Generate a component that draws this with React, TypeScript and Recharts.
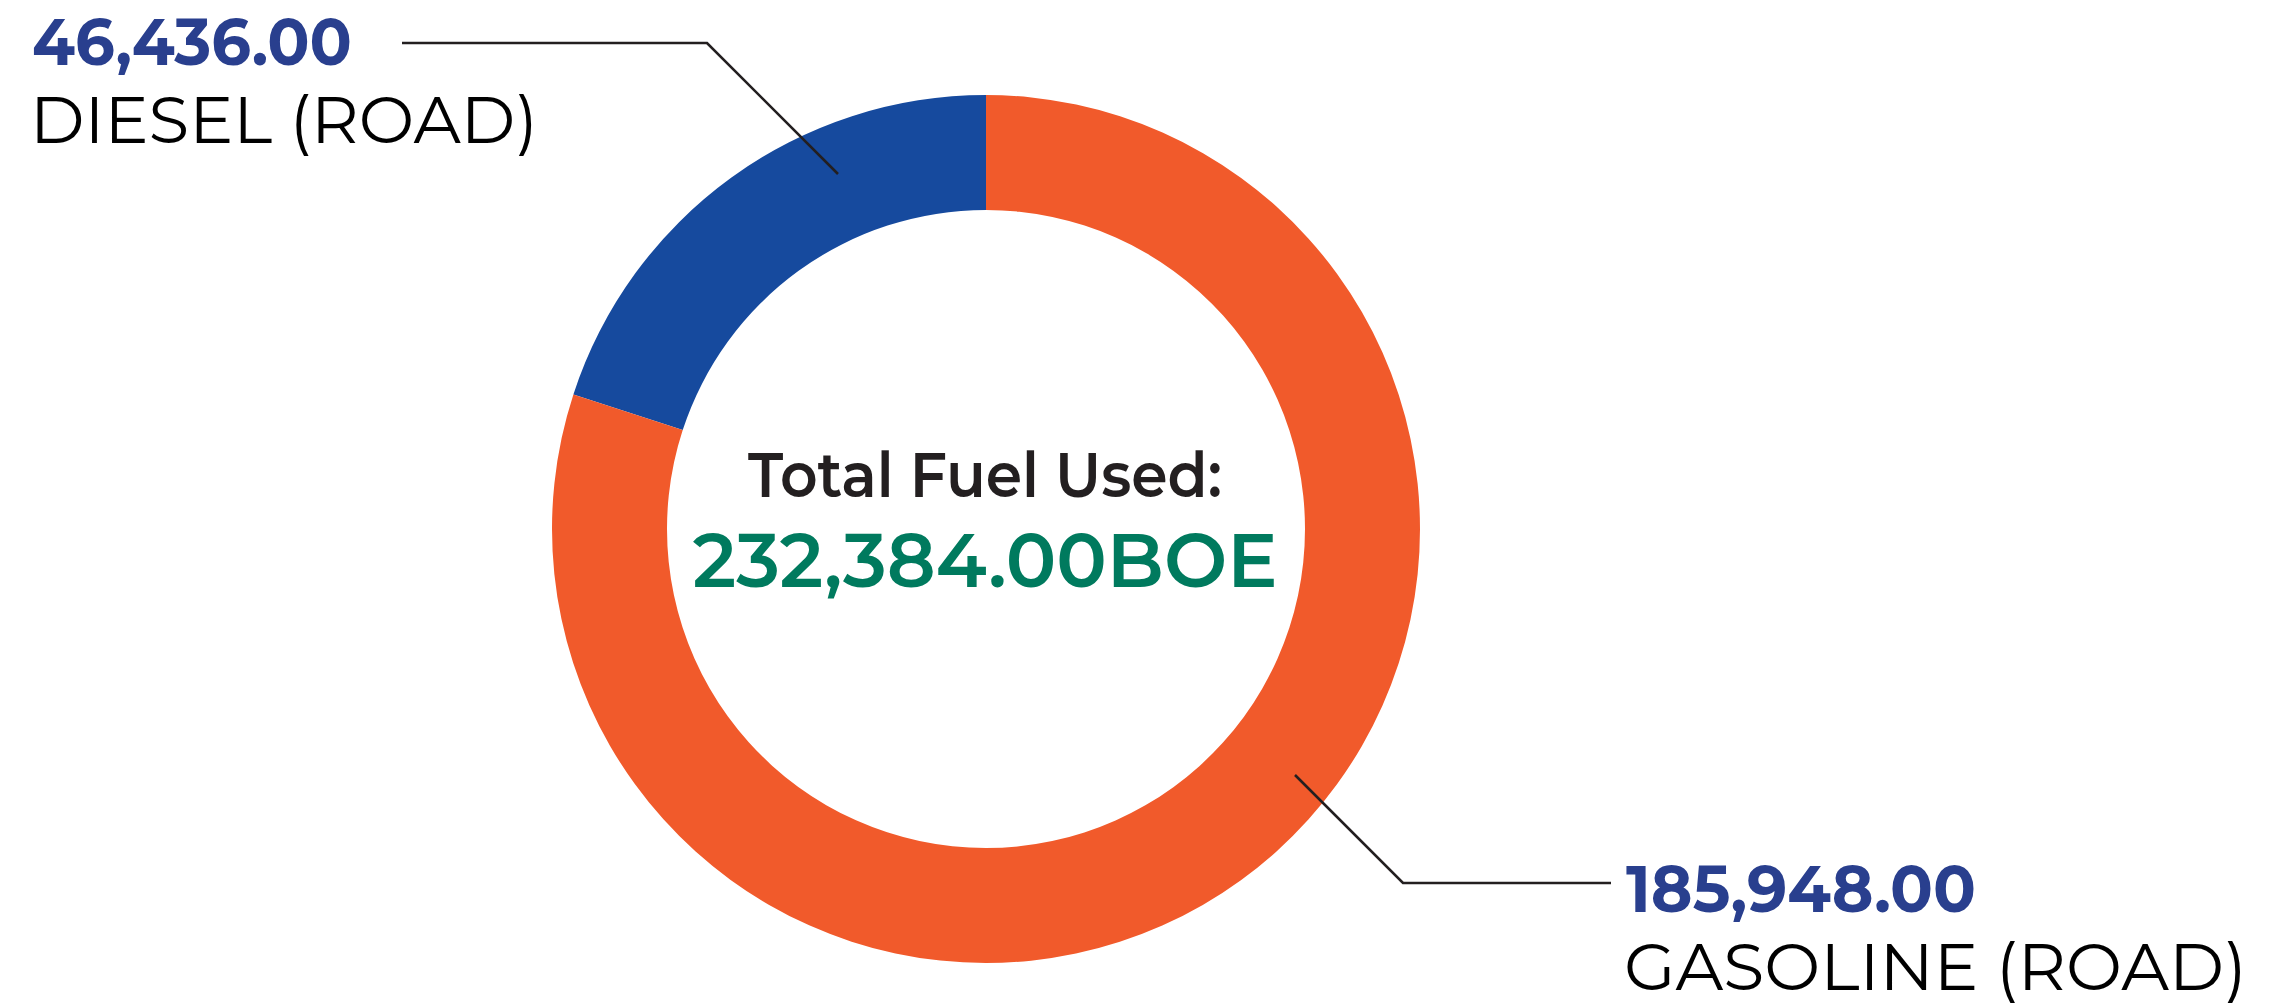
import { FC } from 'react'
import { Cell, Pie, PieChart } from 'recharts'

const FUELS = ['DIESEL (ROAD)', 'GASOLINE (ROAD)']
const VOLUMES = [46436, 185948]
const COLORS = ['#164A9E', '#F15A2B']
const UNIT = 'BOE'

const TEXT_BLUE = '#293F8E'
const TEXT_GREEN = '#007A5E'
const INK = '#231F20'
const FONT = 'Montserrat, Inter, "Open Sans", sans-serif'

const CX = 986
const CY = 529

// leader line layout, relative to the pie centre
const LAYOUT = [
  { tip: [-148, -355], elbow: [-279, -486], end: -584, textX: -954, numW: 320, nameW: 508, side: 'left' },
  { tip: [309, 246], elbow: [417, 354], end: 625, textX: 640, numW: 350, nameW: 623, side: 'right' },
]

const data = FUELS.map((name, i) => ({ name, value: VOLUMES[i] }))
const total = VOLUMES.reduce((a, b) => a + b, 0)

const fmt = (v: number) =>
  v.toLocaleString('en-US', { minimumFractionDigits: 2, maximumFractionDigits: 2 })

const renderLabel = (props: any) => {
  const { cx, cy, index, value, name } = props
  const l = LAYOUT[index]
  const tx = cx + l.tip[0]
  const ty = cy + l.tip[1]
  const ex = cx + l.elbow[0]
  const ey = cy + l.elbow[1]
  const endX = cx + l.end
  const textX = cx + l.textX
  const numBase = l.side === 'left' ? ey + 22 : ey + 29
  return (
    <g key={`lbl-${index}`}>
      <polyline
        points={`${tx},${ty} ${ex},${ey} ${endX},${ey}`}
        fill="none"
        stroke={INK}
        strokeWidth={2.6}
      />
      <text
        x={textX}
        y={numBase}
        fill={TEXT_BLUE}
        fontFamily={FONT}
        fontWeight={700}
        fontSize={66}
        textLength={l.numW}
        lengthAdjust="spacingAndGlyphs"
      >
        {fmt(value)}
      </text>
      <text
        x={textX - 2}
        y={numBase + 78}
        fill="#000"
        fontFamily={FONT}
        fontWeight={400}
        fontSize={66}
        textLength={l.nameW}
        lengthAdjust="spacingAndGlyphs"
      >
        {name}
      </text>
    </g>
  )
}

const App: FC = () => {
  return (
    <div style={{ position: 'absolute', left: 0, top: 0 }}>
      <PieChart width={2280} height={1008} margin={{ top: 0, right: 0, bottom: 0, left: 0 }}>
        <Pie
          data={data}
          dataKey="value"
          nameKey="name"
          cx={CX}
          cy={CY}
          innerRadius={319}
          outerRadius={434}
          startAngle={90}
          endAngle={450}
          stroke="none"
          label={renderLabel}
          labelLine={false}
          isAnimationActive={false}
        >
          {data.map((_, index) => (
            <Cell key={`cell-${index}`} fill={COLORS[index % COLORS.length]} />
          ))}
        </Pie>
        <text
          x={CX - 1}
          y={497}
          textAnchor="middle"
          fill={INK}
          fontFamily={FONT}
          fontWeight={600}
          fontSize={62}
          textLength={474}
          lengthAdjust="spacingAndGlyphs"
        >
          Total Fuel Used:
        </text>
        <text
          x={CX - 1}
          y={587}
          textAnchor="middle"
          fill={TEXT_GREEN}
          fontFamily={FONT}
          fontWeight={600}
          fontSize={76}
          textLength={585}
          lengthAdjust="spacingAndGlyphs"
        >
          {`${fmt(total)}${UNIT}`}
        </text>
      </PieChart>
    </div>
  )
}

export default App
